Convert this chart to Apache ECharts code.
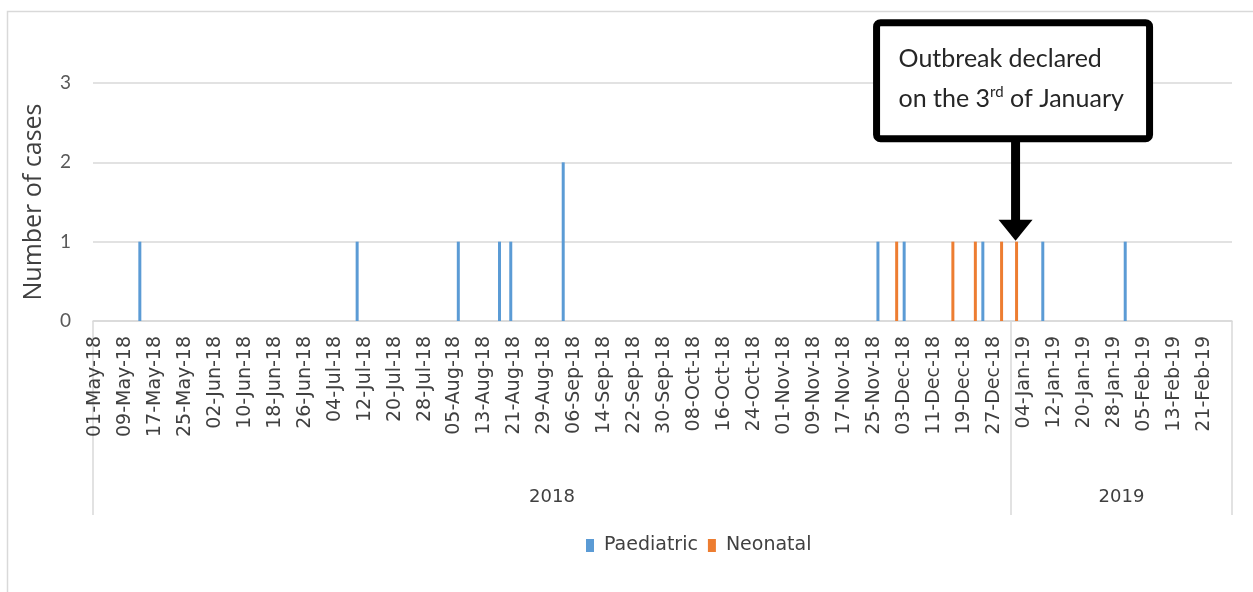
<!DOCTYPE html>
<html>
<head>
<meta charset="utf-8">
<script src="https://cdn.jsdelivr.net/npm/echarts@6/dist/echarts.min.js"></script>
<style>
  html, body { margin: 0; padding: 0; background: #fff; }
  #chart { width: 1253px; height: 592px; }
</style>
</head>
<body>
<div id="chart"></div>
<script>
// daily categories 01-May-18 .. 28-Feb-19
const monthNames = ['Jan', 'Feb', 'Mar', 'Apr', 'May', 'Jun', 'Jul', 'Aug', 'Sep', 'Oct', 'Nov', 'Dec']
const firstDay = Date.UTC(2018, 4, 1)
const dayCount = 304
const categories = []
for (let i = 0; i < dayCount; i++) {
    const d = new Date(firstDay + i * 86400000)
    const dd = String(d.getUTCDate()).padStart(2, '0')
    categories.push(dd + '-' + monthNames[d.getUTCMonth()] + '-' + String(d.getUTCFullYear()).slice(2))
}

// one entry per case (onset date)
const paediatricDates = ['13-May-18', '10-Jul-18', '06-Aug-18', '17-Aug-18', '20-Aug-18', '03-Sep-18', '03-Sep-18',
    '26-Nov-18', '03-Dec-18', '24-Dec-18', '09-Jan-19', '31-Jan-19']
const neonatalDates = ['01-Dec-18', '16-Dec-18', '22-Dec-18', '29-Dec-18', '02-Jan-19']

const yearLabels = ['2018', '2019']
const yearFirstDays = ['01-May-18', '01-Jan-19']
const outbreakBar = ['02-Jan-19', 1]

const countByDay = (dates) => categories.map(c => dates.filter(d => d === c).length)
const paediatric = countByDay(paediatricDates)
const neonatal = countByDay(neonatalDates)

const yearStart = yearFirstDays.map(d => categories.indexOf(d))
const yearEdges = yearStart.concat([dayCount])
const yearMids = yearStart.map((s, i) => (s + yearEdges[i + 1]) / 2)

const grey = '#d9d9d9'
const textColor = '#404040'

const dom = echarts.init(document.getElementById('chart'))
dom.setOption({
    animation: false,
    grid: { left: 93, right: 21, top: 83, bottom: 271 },
    legend: {
        bottom: 32,
        left: 581,
        itemWidth: 8,
        itemHeight: 13,
        itemGap: 10,
        icon: 'rect',
        textStyle: { fontFamily: 'DejaVu Sans', fontSize: 19, color: textColor, padding: [0, 0, 0, 5] },
        data: ['Paediatric', 'Neonatal']
    },
    xAxis: [{
        type: 'category',
        data: categories,
        axisLine: { lineStyle: { color: grey, width: 1.5 } },
        axisTick: { show: false },
        axisLabel: {
            interval: 7,
            rotate: 90,
            margin: 15,
            fontFamily: 'DejaVu Sans',
            fontSize: 19,
            color: textColor
        }
    }, {
        type: 'value',
        min: 0,
        max: dayCount,
        position: 'bottom',
        axisLine: { show: false },
        splitLine: { show: false },
        axisTick: {
            show: true,
            customValues: yearEdges,
            length: 194,
            lineStyle: { color: grey, width: 1.5 }
        },
        axisLabel: {
            customValues: yearMids,
            formatter: (v) => yearLabels[yearMids.indexOf(v)] || '',
            margin: 167,
            fontFamily: 'DejaVu Sans',
            fontSize: 18,
            color: textColor
        }
    }],
    yAxis: {
        type: 'value',
        min: 0,
        max: 3,
        interval: 1,
        name: 'Number of cases',
        nameLocation: 'middle',
        nameGap: 47,
        nameTextStyle: { fontFamily: 'Open Sans', fontSize: 25, color: textColor },
        axisLine: { show: false },
        axisTick: { show: false },
        axisLabel: { margin: 22, fontFamily: 'Lato', fontSize: 19, color: '#595959' },
        splitLine: { lineStyle: { color: grey, width: 1.5 } }
    },
    series: [{
        name: 'Paediatric',
        type: 'bar',
        stack: 'cases',
        barWidth: '80%',
        itemStyle: { color: '#5b9bd5' },
        data: paediatric
    }, {
        name: 'Neonatal',
        type: 'bar',
        stack: 'cases',
        barWidth: '80%',
        itemStyle: { color: '#ed7d31' },
        data: neonatal
    }]
})

// callout pointing at the outbreak bar
const tip = dom.convertToPixel({ xAxisIndex: 0, yAxisIndex: 0 }, outbreakBar)
const tx = tip[0] - 1
const ty = tip[1] - 1
dom.setOption({
    graphic: [{
        type: 'rect',
        silent: true,
        shape: { x: 7.5, y: 11.5, width: 1400, height: 800 },
        style: { fill: 'none', stroke: grey, lineWidth: 1.5 },
        z: -10
    }, {
        type: 'rect',
        shape: { x: tx - 139, y: ty - 218, width: 273, height: 116, r: 4 },
        style: { fill: '#fff', stroke: '#000', lineWidth: 7 }
    }, {
        type: 'rect',
        shape: { x: tx - 4.5, y: ty - 102, width: 9, height: 82 },
        style: { fill: '#000' }
    }, {
        type: 'polygon',
        shape: { points: [[tx - 17, ty - 21], [tx + 17, ty - 21], [tx, ty]] },
        style: { fill: '#000' }
    }, {
        type: 'text',
        x: tx - 117,
        y: ty - 202,
        style: {
            text: 'Outbreak declared\n{n|on the 3}{sup|rd}{n| of January}',
            fontFamily: 'Lato',
            fontSize: 25,
            lineHeight: 40,
            fill: '#262626',
            rich: {
                n: { fontFamily: 'Lato', fontSize: 25, lineHeight: 40, fill: '#262626' },
                sup: { fontFamily: 'Lato', fontSize: 15, lineHeight: 40, fill: '#262626', padding: [0, 0, 14, 0] }
            }
        }
    }]
})
</script>
</body>
</html>
